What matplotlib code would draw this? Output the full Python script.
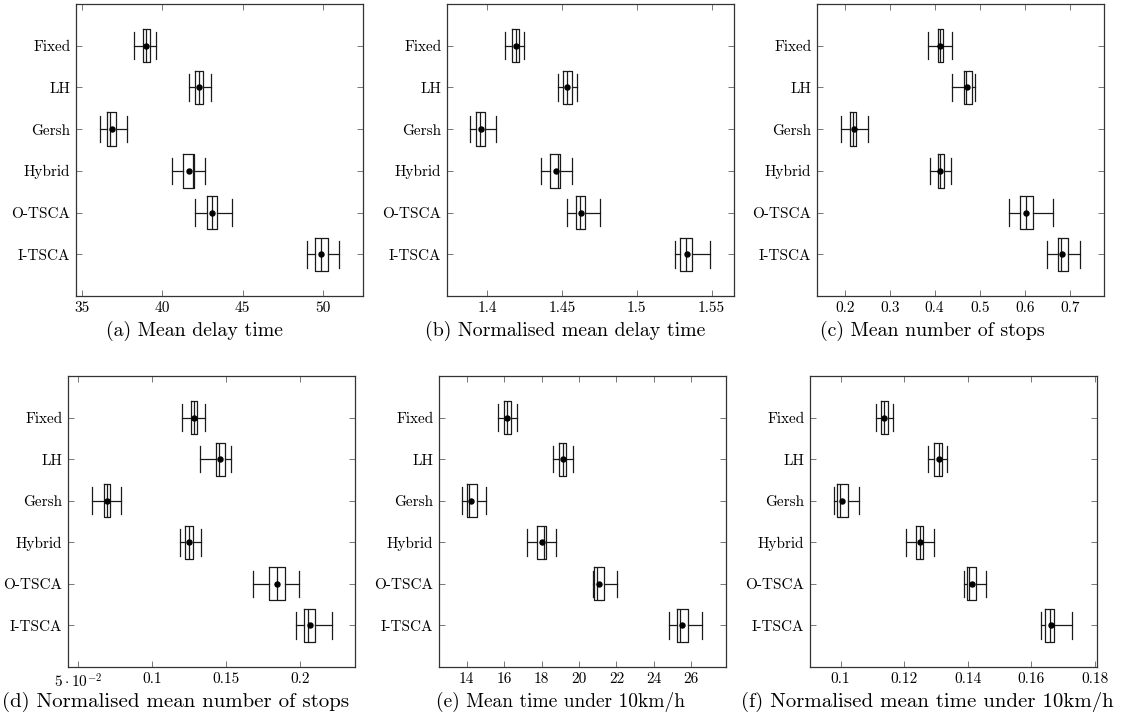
import matplotlib.pyplot as plt

plt.rcParams['font.family'] = 'cmr10'
plt.rcParams['mathtext.fontset'] = 'cm'
plt.rcParams['axes.formatter.use_mathtext'] = True

methods = ['Fixed', 'LH', 'Gersh', 'Hybrid', 'O-TSCA', 'I-TSCA']

# per method: (whisker low, q1, median, q3, whisker high, mean)
delay = [(38.23, 38.77, 38.98, 39.25, 39.58, 38.98),
         (41.63, 42.00, 42.29, 42.56, 43.00, 42.29),
         (36.10, 36.56, 36.75, 37.10, 37.79, 36.83),
         (40.62, 41.31, 41.90, 41.98, 42.67, 41.67),
         (42.06, 42.81, 43.10, 43.40, 44.33, 43.10),
         (49.00, 49.50, 49.90, 50.33, 51.04, 49.90)]
norm_delay = [(1.4120, 1.4167, 1.4192, 1.4212, 1.4246, 1.4192),
              (1.4475, 1.4509, 1.4533, 1.4563, 1.4603, 1.4533),
              (1.3886, 1.3924, 1.3953, 1.3984, 1.4060, 1.3958),
              (1.4359, 1.4417, 1.4471, 1.4489, 1.4563, 1.4460),
              (1.4536, 1.4596, 1.4620, 1.4656, 1.4752, 1.4627),
              (1.5252, 1.5288, 1.5330, 1.5368, 1.5491, 1.5337)]
stops = [(0.385, 0.407, 0.412, 0.4185, 0.4385, 0.412),
         (0.439, 0.466, 0.470, 0.482, 0.4896, 0.471),
         (0.191, 0.2119, 0.2185, 0.226, 0.2519, 0.220),
         (0.3896, 0.4074, 0.4126, 0.4207, 0.4363, 0.4126),
         (0.5652, 0.5896, 0.6022, 0.6193, 0.6622, 0.6037),
         (0.6489, 0.674, 0.6815, 0.697, 0.723, 0.6837)]
norm_stops = [(0.1203, 0.1261, 0.1282, 0.1304, 0.1354, 0.1282),
              (0.1324, 0.1432, 0.1450, 0.1491, 0.1529, 0.1455),
              (0.0592, 0.0673, 0.0691, 0.0714, 0.0791, 0.0694),
              (0.1189, 0.1223, 0.1245, 0.1273, 0.1327, 0.1250),
              (0.1680, 0.1788, 0.1842, 0.1899, 0.1993, 0.1842),
              (0.1968, 0.2027, 0.2052, 0.2099, 0.2212, 0.2068)]
slow = [(15.69, 16.01, 16.15, 16.39, 16.67, 16.15),
        (18.63, 18.95, 19.16, 19.32, 19.68, 19.14),
        (13.77, 14.04, 14.12, 14.55, 15.05, 14.23),
        (17.24, 17.77, 18.13, 18.22, 18.79, 18.00),
        (20.73, 20.82, 20.96, 21.33, 22.01, 21.09),
        (24.82, 25.22, 25.41, 25.84, 26.59, 25.52)]
norm_slow = [(0.1111, 0.1128, 0.1138, 0.1148, 0.1165, 0.1135),
             (0.1276, 0.1295, 0.1308, 0.1319, 0.1335, 0.1308),
             (0.0978, 0.0990, 0.0998, 0.1024, 0.1059, 0.1004),
             (0.1206, 0.1238, 0.1249, 0.1260, 0.1293, 0.1249),
             (0.1388, 0.1396, 0.1404, 0.1427, 0.1458, 0.1414),
             (0.1629, 0.1643, 0.1658, 0.1671, 0.1728, 0.1662)]

panels = [
    (delay, (34.6, 52.52), [35, 40, 45, 50], ['35', '40', '45', '50'],
     '(a) Mean delay time', (76, 363, 4, 296), 195, 331, 14.3),
    (norm_delay, (1.373, 1.565), [1.4, 1.45, 1.5, 1.55], ['1.4', '1.45', '1.5', '1.55'],
     '(b) Normalised mean delay time', (447, 734, 4, 296), 565, 331, 14.3),
    (stops, (0.1385, 0.7763), [0.2, 0.3, 0.4, 0.5, 0.6, 0.7],
     ['0.2', '0.3', '0.4', '0.5', '0.6', '0.7'],
     '(c) Mean number of stops', (817, 1104, 4, 296), 932, 331, 14.3),
    (norm_stops, (0.043, 0.2369), [0.05, 0.1, 0.15, 0.2],
     [r'$5\cdot10^{-2}$', '0.1', '0.15', '0.2'],
     '(d) Normalised mean number of stops', (68, 355, 376, 667), 176, 702, 15),
    (slow, (12.52, 27.85), [14, 16, 18, 20, 22, 24, 26],
     ['14', '16', '18', '20', '22', '24', '26'],
     '(e) Mean time under 10km/h', (439, 726, 376, 667), 561, 702, 14),
    (norm_slow, (0.0904, 0.1806), [0.1, 0.12, 0.14, 0.16, 0.18],
     ['0.1', '0.12', '0.14', '0.16', '0.18'],
     '(f) Normalised mean time under 10km/h', (810, 1097, 376, 667), 927, 702, 15),
]

W, H = 1123, 726
fig = plt.figure(figsize=(W / 100, H / 100), dpi=100)

for data, xlim, xt, xtl, caption, (x0, x1, y0, y1), cx, cy, fs in panels:
    ax = fig.add_axes([x0 / W, 1 - y1 / H, (x1 - x0) / W, (y1 - y0) / H])
    stats = []
    for name, (lo, q1, med, q3, hi, mean) in zip(methods, data):
        stats.append(dict(label=name, whislo=lo, q1=q1, med=med, q3=q3,
                          whishi=hi, mean=mean, fliers=[]))
    line = dict(color='#1a1a1a', linewidth=0.9)
    ax.bxp(stats, positions=range(1, 7), widths=0.8, capwidths=0.64,
           orientation='horizontal', showmeans=True, showfliers=False,
           boxprops=line, whiskerprops=line, capprops=line, medianprops=line,
           meanprops=dict(marker='o', markersize=3.6, markerfacecolor='black',
                          markeredgecolor='black'))
    ax.set_xlim(*xlim)
    ax.set_ylim(7, 0)
    ax.set_xticks(xt)
    ax.set_xticklabels(xtl)
    ax.set_yticks(range(1, 7))
    ax.set_yticklabels(methods)
    ax.tick_params(direction='in', top=True, right=True, length=4, width=0.7,
                   color='#777777', labelsize=11, pad=4)
    for s in ax.spines.values():
        s.set_color('#333333')
        s.set_linewidth(0.9)
    fig.text(cx / W, 1 - cy / H, caption, ha='center', va='center', fontsize=fs)

fig.savefig('out.png', dpi=100)
